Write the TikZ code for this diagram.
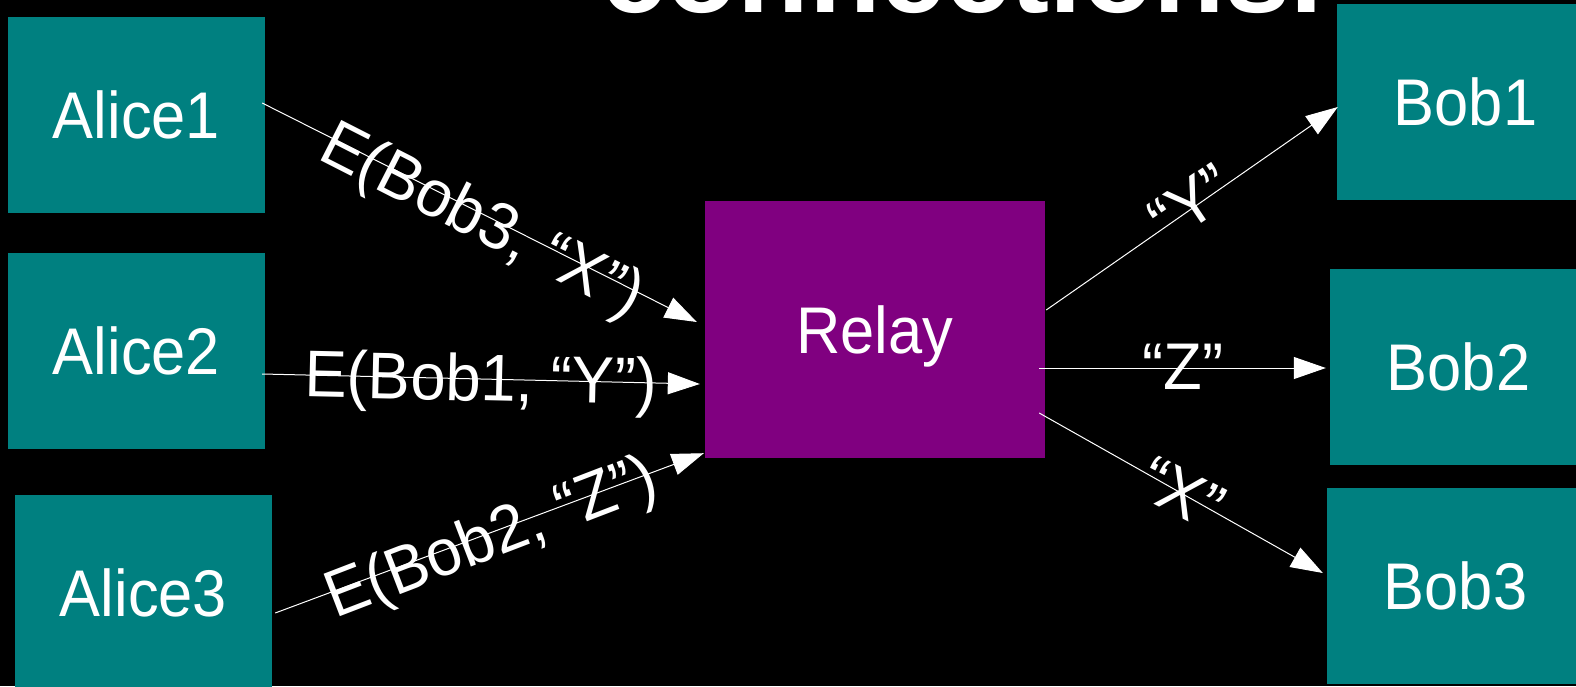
\documentclass[tikz,border=0pt]{standalone}
\usepackage{fontspec}
\setmainfont{Liberation Sans}
\newfontfamily\slidefont{Liberation Sans}[FakeStretch=0.93]
\newfontfamily\msgfont{Liberation Sans}[FakeStretch=0.96]
\usetikzlibrary{arrows.meta}
\definecolor{hostteal}{RGB}{0,128,128}
\definecolor{relaypurple}{RGB}{128,0,128}
\tikzset{
host/.style={fill=hostteal, text=white, inner sep=0pt,
  minimum width=257pt, minimum height=196pt, text depth=0pt,
  font=\slidefont\fontsize{66}{79}\selectfont},
relaybox/.style={host, fill=relaypurple, minimum width=340pt, minimum height=257pt},
msg/.style={text=white, inner sep=0pt, text depth=0pt,
  font=\msgfont\fontsize{66}{79}\selectfont},
headline/.style={text=white, inner sep=0pt, anchor=base west,
  font=\fontsize{117}{140}\selectfont\bfseries},
link/.style={draw=white, line width=1pt, -{Triangle[length=32pt,width=22pt]}}
}

\begin{document}
\begin{tikzpicture}[x=1pt,y=-1pt]
  \path[use as bounding box, fill=black] (0,0) rectangle (1576,686);
  \clip (0,0) rectangle (1576,686);
  \node[headline] (head) at (601,12.5) {connections.};
  % senders
  \node[host] (alice1) at (136.5,115) {Alice1};
  \node[host] (alice2) at (136.5,350.5) {Alice2};
  \node[host] (alice3) at (143.5,592.5) {Alice3};
  \node[relaybox] (relay) at (875,329.5) {Relay};
  % receivers
  \node[host] (bob1) at (1465.5,102) {Bob1};
  \node[host] (bob2) at (1458.5,367) {Bob2};
  \node[host] (bob3) at (1455.5,585.5) {Bob3};
  \draw[link] ([shift={(-3,-12)}]alice1.east) -- ([shift={(-8,-7.5)}]relay.west);
  \draw[link] ([shift={(-3,23.5)}]alice2.east) -- ([shift={(-5,54.5)}]relay.west);
  \draw[link] ([shift={(3,20.5)}]alice3.east) -- ([shift={(-1,-5)}]relay.south west);
  \draw[link] ([shift={(1,-19.5)}]relay.east) -- ([shift={(1,5)}]bob1.west);
  \draw[link] ([shift={(-6,38.5)}]relay.east) -- ([shift={(-4,1)}]bob2.west);
  \draw[link] ([shift={(-6,83.5)}]relay.east) -- ([shift={(-4,-12.5)}]bob3.west);
  % messages
  \node[msg, rotate=-27] (m1) at (484,217) {E(Bob3, “X”)};
  \node[msg, rotate=-1.3] (m2) at (481,377) {E(Bob1, “Y”)};
  \node[msg, rotate=21] (m3) at (490,534) {E(Bob2, “Z”)};
  \node[msg, rotate=34] (m4) at (1191,203) {“Y”};
  \node[msg] (m5) at (1183,367) {“Z”};
  \node[msg, rotate=-27] (m6) at (1182,493) {“X”};
\end{tikzpicture}
\end{document}
